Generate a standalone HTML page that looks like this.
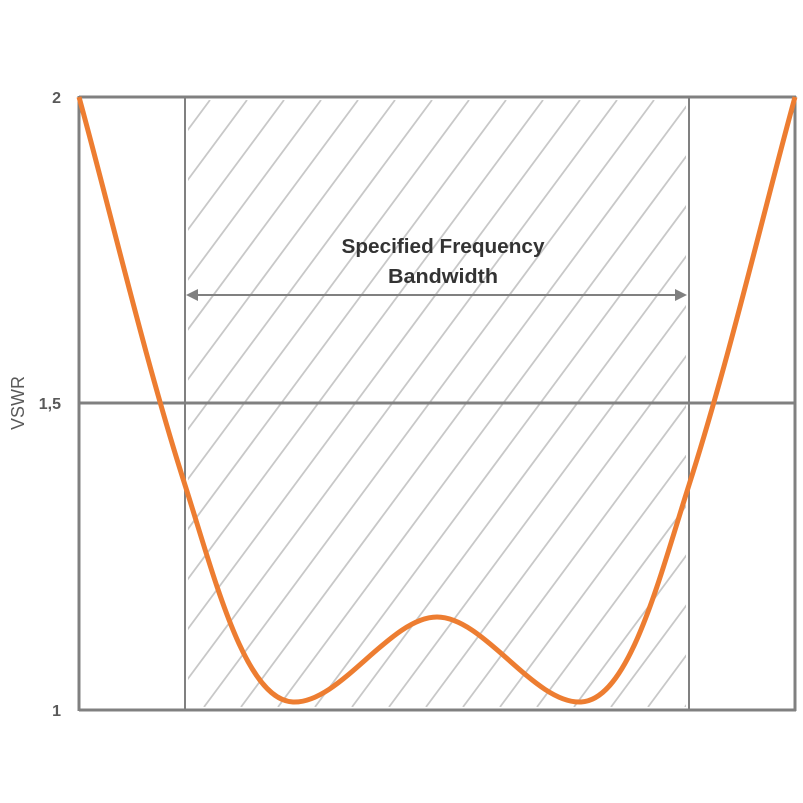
<!DOCTYPE html>
<html><head><meta charset="utf-8"><style>html,body{margin:0;padding:0;background:#fff}svg{display:block}</style></head>
<body>
<svg width="803" height="803" viewBox="0 0 803 803" xmlns="http://www.w3.org/2000/svg">
<defs><clipPath id="c"><rect x="188" y="100" width="498" height="607"/></clipPath></defs>
<g clip-path="url(#c)" stroke="#c8c8c8" stroke-width="1.8">
<line x1="173" y1="100" x2="-277" y2="707"/>
<line x1="210" y1="100" x2="-240" y2="707"/>
<line x1="247" y1="100" x2="-203" y2="707"/>
<line x1="284" y1="100" x2="-166" y2="707"/>
<line x1="321" y1="100" x2="-129" y2="707"/>
<line x1="358" y1="100" x2="-92" y2="707"/>
<line x1="395" y1="100" x2="-55" y2="707"/>
<line x1="432" y1="100" x2="-18" y2="707"/>
<line x1="469" y1="100" x2="19" y2="707"/>
<line x1="506" y1="100" x2="56" y2="707"/>
<line x1="543" y1="100" x2="93" y2="707"/>
<line x1="580" y1="100" x2="130" y2="707"/>
<line x1="617" y1="100" x2="167" y2="707"/>
<line x1="654" y1="100" x2="204" y2="707"/>
<line x1="691" y1="100" x2="241" y2="707"/>
<line x1="728" y1="100" x2="278" y2="707"/>
<line x1="765" y1="100" x2="315" y2="707"/>
<line x1="802" y1="100" x2="352" y2="707"/>
<line x1="839" y1="100" x2="389" y2="707"/>
<line x1="876" y1="100" x2="426" y2="707"/>
<line x1="913" y1="100" x2="463" y2="707"/>
<line x1="950" y1="100" x2="500" y2="707"/>
<line x1="987" y1="100" x2="537" y2="707"/>
<line x1="1024" y1="100" x2="574" y2="707"/>
<line x1="1061" y1="100" x2="611" y2="707"/>
<line x1="1098" y1="100" x2="648" y2="707"/>
<line x1="1135" y1="100" x2="685" y2="707"/>
<line x1="1172" y1="100" x2="722" y2="707"/>
</g>
<g stroke="#808080" fill="none">
<line x1="79" y1="97" x2="796" y2="97" stroke-width="3"/>
<line x1="79" y1="710" x2="796" y2="710" stroke-width="3"/>
<line x1="79" y1="403" x2="796" y2="403" stroke-width="3"/>
<line x1="79" y1="96" x2="79" y2="711" stroke-width="3"/>
<line x1="795" y1="96" x2="795" y2="711" stroke-width="3"/>
<line x1="185" y1="97" x2="185" y2="710" stroke-width="2"/>
<line x1="689" y1="97" x2="689" y2="710" stroke-width="2"/>
<line x1="195" y1="295" x2="678" y2="295" stroke-width="2"/>
</g>
<polygon points="186,295 198,289 198,301" fill="#808080"/>
<polygon points="687,295 675,289 675,301" fill="#808080"/>
<path d="M79,97 C110,210 145,360 185,485 C215,579 245,700 293,702 C340,704 390,617 437,617 C484,617 534,704 581,702 C629,700 659,579 689,485 C729,360 764,210 795,97" fill="none" stroke="#ed7d31" stroke-width="5"/>
<g font-family="Liberation Sans, sans-serif" font-weight="bold" fill="#333" font-size="20" text-anchor="middle">
<text x="443" y="253" textLength="203" lengthAdjust="spacingAndGlyphs">Specified Frequency</text>
<text x="443" y="283" textLength="110" lengthAdjust="spacingAndGlyphs">Bandwidth</text>
</g>
<g font-family="Liberation Sans, sans-serif" font-weight="bold" fill="#595959" font-size="16" text-anchor="end">
<text x="61" y="103">2</text>
<text x="61" y="409">1,5</text>
<text x="61" y="716">1</text>
</g>
<text transform="translate(24,403) rotate(-90)" font-family="Liberation Sans, sans-serif" fill="#595959" font-size="18" text-anchor="middle">VSWR</text>
</svg>
</body></html>
